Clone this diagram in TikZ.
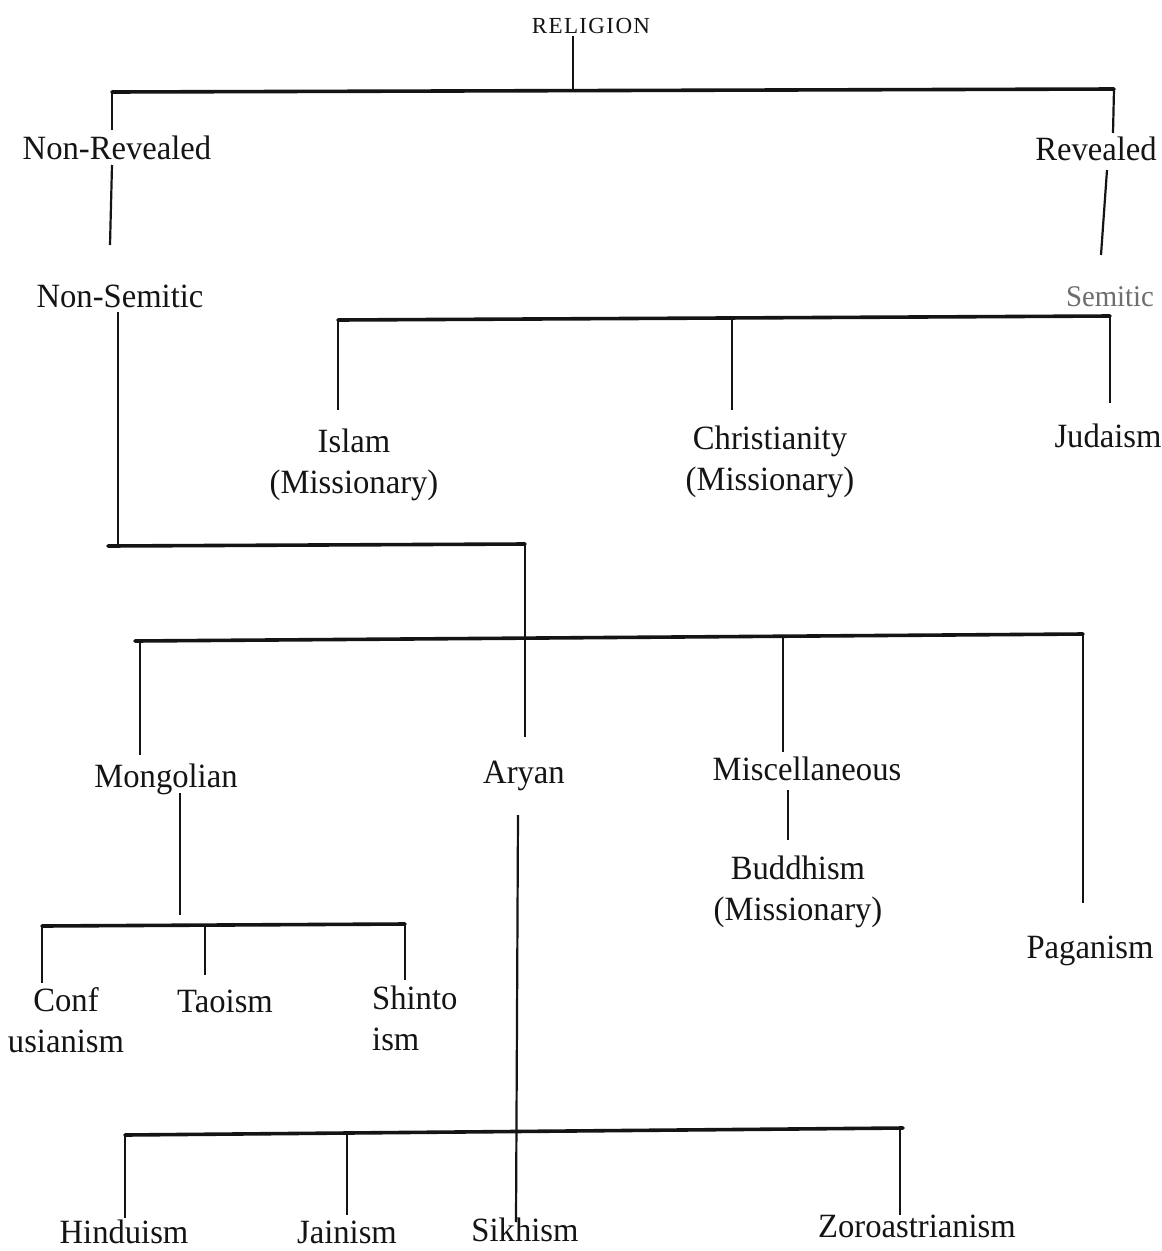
\documentclass[tikz,border=0pt]{standalone}
\usepackage{fontspec}
\setmainfont{Liberation Serif}[FakeStretch=0.96]
\newfontfamily\relfont{Liberation Serif}[LetterSpace=6]
\definecolor{inkc}{RGB}{20,20,20}
\definecolor{greyc}{RGB}{110,110,110}
\begin{document}
\begin{tikzpicture}[x=1pt,y=-1pt,
  lbl/.style={inner sep=0pt,anchor=base,text=inkc,font=\fontsize{34}{41}\selectfont},
  bar/.style={draw=inkc,line width=3.6pt,line cap=round},
  vl/.style={draw=inkc,line width=2.2pt}]
\useasboundingbox[fill=white] (0,0) rectangle (1162,1251);

% ---- labels ----
\node[lbl,font=\relfont\fontsize{23}{28}\selectfont] (rel) at (591,33) {RELIGION};
\node[lbl] (nrev) at (117,159) {Non-Revealed};
\node[lbl] (rev) at (1096,160) {Revealed};
\node[lbl] (nsem) at (120,307) {Non-Semitic};
\node[lbl,text=greyc,font=\fontsize{30}{36}\selectfont] (sem) at (1110,306) {Semitic};
\node[lbl,align=center] (isl) at (354,493) {Islam\\(Missionary)};
\node[lbl,align=center] (chr) at (770,490) {Christianity\\(Missionary)};
\node[lbl] (jud) at (1108,447) {Judaism};
\node[lbl] (mon) at (166,787) {Mongolian};
\node[lbl] (ary) at (524,783) {Aryan};
\node[lbl] (misc) at (807,780) {Miscellaneous};
\node[lbl,align=center] (bud) at (798,920) {Buddhism\\(Missionary)};
\node[lbl] (pag) at (1090,958) {Paganism};
\node[lbl,align=center] (conf) at (66,1052) {Conf\\usianism};
\node[lbl] (tao) at (225,1012) {Taoism};
\node[lbl,align=left,anchor=base west] (shin) at (372,1050) {Shinto\\ism};
\node[lbl] (hin) at (124,1243) {Hinduism};
\node[lbl] (jai) at (347,1243) {Jainism};
\node[lbl] (sik) at (525,1241) {Sikhism};
\node[lbl] (zor) at (917,1237) {Zoroastrianism};

% ---- junction coordinates ----
\coordinate (j0) at (573,90);
\coordinate (j0t) at (573,36);
\coordinate (tl) at (112,92);
\coordinate (tr) at (1114,89);
\coordinate (nrevT) at (112,130);
\coordinate (revT) at (1113,133);
\coordinate (nrevB) at (112,165);
\coordinate (nsemT) at (110,245);
\coordinate (revB) at (1107,170);
\coordinate (semT) at (1101,255);
\coordinate (nsemB) at (118,312);
\coordinate (sl) at (338,320);
\coordinate (sm) at (732,319);
\coordinate (sr) at (1110,316);
\coordinate (islT) at (338,410);
\coordinate (chrT) at (732,410);
\coordinate (judT) at (1110,403);
\coordinate (nl) at (108,546);
\coordinate (nr) at (525,544);
\coordinate (nlv) at (118,546);
\coordinate (aryT) at (525,737);
\coordinate (ml) at (135,641);
\coordinate (mr) at (1083,634);
\coordinate (mm) at (783,637);
\coordinate (mmon) at (140,641);
\coordinate (monT) at (140,755);
\coordinate (miscT) at (783,752);
\coordinate (pagT) at (1083,903);
\coordinate (monB) at (180,793);
\coordinate (gm) at (180,915);
\coordinate (miscB) at (788,790);
\coordinate (budT) at (788,840);
\coordinate (gl) at (42,926);
\coordinate (gc) at (205,925);
\coordinate (gr) at (405,924);
\coordinate (confT) at (42,983);
\coordinate (taoT) at (205,975);
\coordinate (shinT) at (405,980);
\coordinate (aryB) at (518,815);
\coordinate (sikT) at (516,1222);
\coordinate (bl) at (125,1135);
\coordinate (bj) at (347,1133);
\coordinate (br) at (903,1128);
\coordinate (bz) at (900,1128);
\coordinate (hinT) at (125,1218);
\coordinate (jaiT) at (347,1215);
\coordinate (zorT) at (900,1215);

% ---- connectors ----
\draw[vl] (j0t) -- (j0);
\draw[bar] (tl) -- (tr);
\draw[vl] (tl) -- (nrevT);
\draw[vl] (tr) -- (revT);
\draw[vl] (nrevB) -- (nsemT);
\draw[vl] (revB) -- (semT);
\draw[vl] (nsemB) -- (nlv);
\draw[bar] (sl) -- (sr);
\draw[vl] (sl) -- (islT);
\draw[vl] (sm) -- (chrT);
\draw[vl] (sr) -- (judT);
\draw[bar] (nl) -- (nr);
\draw[vl] (nr) -- (aryT);
\draw[bar] (ml) -- (mr);
\draw[vl] (mmon) -- (monT);
\draw[vl] (mm) -- (miscT);
\draw[vl] (mr) -- (pagT);
\draw[vl] (monB) -- (gm);
\draw[vl] (miscB) -- (budT);
\draw[bar] (gl) -- (gr);
\draw[vl] (gl) -- (confT);
\draw[vl] (gc) -- (taoT);
\draw[vl] (gr) -- (shinT);
\draw[vl] (aryB) -- (sikT);
\draw[bar] (bl) -- (br);
\draw[vl] (bl) -- (hinT);
\draw[vl] (bj) -- (jaiT);
\draw[vl] (bz) -- (zorT);
\end{tikzpicture}
\end{document}
